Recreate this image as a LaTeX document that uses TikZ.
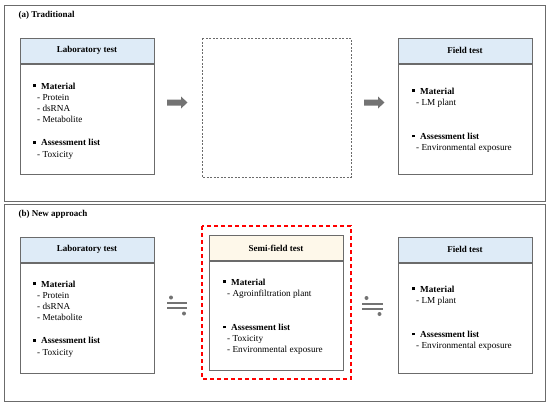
\documentclass[tikz,border=0pt]{standalone}
\usepackage{fontspec}
\setmainfont{Liberation Serif}
\usetikzlibrary{positioning}
\definecolor{headblue}{HTML}{DEEBF7}
\definecolor{headcream}{HTML}{FEF8EA}
\colorlet{boxgray}{black!58}
\colorlet{arrowgray}{black!55}
\newcommand{\sqbul}{\makebox[8pt][l]{\rule[0.22em]{0.28em}{0.28em}}}
\newcommand{\subitm}[1]{\hspace*{4pt}- #1}

\begin{document}
\begin{tikzpicture}[x=1pt, y=-1pt,
    panel/.style={draw=boxgray, line width=0.9pt},
    headbox/.style={draw=boxgray, line width=1pt, minimum width=134pt, minimum height=25pt, inner sep=0pt, font=\fontsize{9}{10}\selectfont\bfseries},
    bodybox/.style={draw=boxgray, line width=1pt, minimum width=134pt, minimum height=110pt, inner sep=0pt},
    itemlist/.style={anchor=north west, inner sep=0pt, align=left, font=\fontsize{9.2}{11.2}\selectfont},
    titletext/.style={anchor=west, font=\fontsize{9}{10}\selectfont\bfseries}]
  \useasboundingbox (0,0) rectangle (550,405);

  % (a) traditional
  \draw[panel] (4,5) rectangle (545,201);
  \node[titletext] (titlea) at (15,15) {(a) Traditional};

  \node[headbox, fill=headblue] (laba) at (87,50.5) {Laboratory test};
  \node[bodybox, below=0pt of laba] (labaBody) {};
  \node[itemlist] (labaList) at (33,82.5) {\sqbul\textbf{Material}\\ \subitm{Protein}\\ \subitm{dsRNA}\\ \subitm{Metabolite}\\[12pt]
    \sqbul\textbf{Assessment list}\\ \subitm{Toxicity}};

  \draw[boxgray, line width=0.6pt, dash pattern=on 2pt off 1.5pt] (202,38) rectangle (351,177);

  \node[headbox, fill=headblue] (fielda) at (465,50.5) {Field test};
  \node[bodybox, below=0pt of fielda] (fieldaBody) {};
  \node[itemlist] (fieldaList) at (412,87.5) {\sqbul\textbf{Material}\\ \subitm{LM plant}\\[23pt]
    \sqbul\textbf{Assessment list}\\ \subitm{Environmental exposure}};

  % block arrows
  \fill[arrowgray] (167,99.5) -- (181,99.5) -- (181,96.5) -- (187.5,102.5) -- (181,108.5) -- (181,105.5) -- (167,105.5) -- cycle;
  \fill[arrowgray] (364,99.5) -- (378,99.5) -- (378,96.5) -- (384.5,102.5) -- (378,108.5) -- (378,105.5) -- (364,105.5) -- cycle;

  % (b) new approach
  \draw[panel] (4,204) rectangle (545,401);
  \node[titletext] (titleb) at (15,214) {(b) New approach};

  \node[headbox, fill=headblue] (labb) at (87,249.5) {Laboratory test};
  \node[bodybox, below=0pt of labb] (labbBody) {};
  \node[itemlist] (labbList) at (33,280.5) {\sqbul\textbf{Material}\\ \subitm{Protein}\\ \subitm{dsRNA}\\ \subitm{Metabolite}\\[12pt]
    \sqbul\textbf{Assessment list}\\ \subitm{Toxicity}};

  \draw[red, line width=1.2pt, dash pattern=on 4pt off 3pt] (202,226) rectangle (351,379);
  \node[headbox, fill=headcream] (semi) at (276,248) {Semi-field test};
  \node[bodybox, below=0pt of semi, minimum height=109pt] (semiBody) {};
  \node[itemlist] (semiList) at (223,278.5) {\sqbul\textbf{Material}\\ \subitm{Agroinfiltration plant}\\[23pt]
    \sqbul\textbf{Assessment list}\\ \subitm{Toxicity}\\ \subitm{Environmental exposure}};

  \node[headbox, fill=headblue] (fieldb) at (465,249.5) {Field test};
  \node[bodybox, below=0pt of fieldb] (fieldbBody) {};
  \node[itemlist] (fieldbList) at (412,285.5) {\sqbul\textbf{Material}\\ \subitm{LM plant}\\[23pt]
    \sqbul\textbf{Assessment list}\\ \subitm{Environmental exposure}};

  % approximately-equal signs
  \draw[arrowgray, line width=2pt] (167,303) -- (187,303) (167,308) -- (187,308);
  \fill[arrowgray] (171,297.5) circle (2pt) (184,313.5) circle (2pt);
  \draw[arrowgray, line width=2pt] (362,303.5) -- (383,303.5) (362,308.5) -- (383,308.5);
  \fill[arrowgray] (366.5,298) circle (2pt) (379.5,314) circle (2pt);
\end{tikzpicture}
\end{document}
